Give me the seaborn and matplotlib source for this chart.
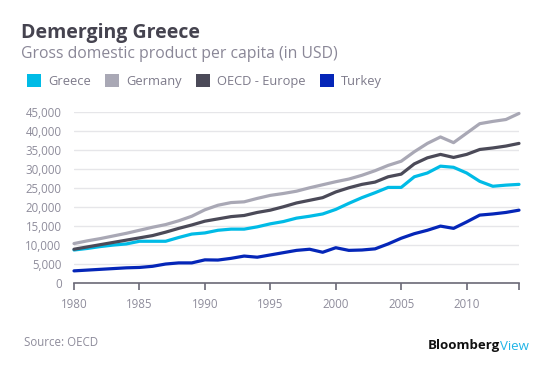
import numpy as np
import pandas as pd
import seaborn as sns
import matplotlib
matplotlib.use('Agg')
import matplotlib.pyplot as plt
from matplotlib.patches import Patch

# GDP per capita in USD (1980-2014)
years = list(range(1980, 2015))
greece = [8700, 9100, 9600, 10000, 10300, 11000, 11000, 11000, 12000, 12900,
          13200, 13900, 14200, 14200, 14800, 15600, 16200, 17100, 17600, 18200,
          19400, 21000, 22500, 23800, 25200, 25200, 28000, 29000, 30800, 30500,
          29000, 26800, 25500, 25800, 26000]
germany = [10400, 11100, 11700, 12400, 13100, 13900, 14700, 15400, 16400, 17600,
           19300, 20500, 21200, 21400, 22300, 23100, 23600, 24200, 25100, 25900,
           26700, 27400, 28400, 29600, 31000, 32100, 34600, 36800, 38500, 37000,
           39500, 42000, 42600, 43100, 44700]
oecd_europe = [8900, 9500, 10100, 10700, 11300, 11900, 12500, 13400, 14400, 15300,
               16300, 16900, 17500, 17800, 18600, 19200, 20100, 21100, 21800, 22500,
               24000, 25100, 26000, 26600, 28000, 28700, 31400, 33000, 33900, 33100,
               33900, 35200, 35600, 36100, 36800]
turkey = [3200, 3400, 3600, 3800, 4000, 4100, 4400, 5000, 5300, 5300,
          6100, 6050, 6500, 7100, 6800, 7400, 8000, 8600, 8900, 8100,
          9300, 8600, 8700, 9000, 10300, 11800, 13000, 13900, 15000, 14400,
          16100, 17900, 18200, 18600, 19200]

series_names = ['Greece', 'Germany', 'OECD - Europe', 'Turkey']
colors = ['#00bbe6', '#a9a8b5', '#4b4a58', '#0526b8']

df = pd.DataFrame({'Year': years, 'Greece': greece, 'Germany': germany,
                   'OECD - Europe': oecd_europe, 'Turkey': turkey})
long_df = df.melt(id_vars='Year', var_name='Country', value_name='GDP')

sns.set_style('white')
plt.rcParams['font.family'] = ['Open Sans', 'DejaVu Sans']

fig = plt.figure(figsize=(5.57, 3.74), dpi=100)
ax = fig.add_axes([74 / 557, 1 - 283 / 374, (519 - 74) / 557, (283 - 112.3) / 374])

sns.lineplot(data=long_df, x='Year', y='GDP', hue='Country', hue_order=series_names,
             palette=colors, linewidth=2.3, legend=False, ax=ax, clip_on=False)

ax.set_xlim(1980, 2014)
ax.set_ylim(0, 45000)
ax.set_yticks(range(0, 45001, 5000))
ax.set_yticklabels([f'{v:,}' for v in range(0, 45001, 5000)])
ax.set_xticks([1980, 1985, 1990, 1995, 2000, 2005, 2010, 2014])
ax.set_xticklabels(['1980', '1985', '1990', '1995', '2000', '2005', '2010', ''])
ax.set_xlabel('')
ax.set_ylabel('')

ax.grid(axis='y', color='#e6e6e9', linewidth=1)
ax.set_axisbelow(True)
for s in ['top', 'right', 'left']:
    ax.spines[s].set_visible(False)
ax.spines['bottom'].set_color('#6b6977')
ax.spines['bottom'].set_linewidth(1.2)
ax.tick_params(axis='x', direction='out', length=5, width=1.2, color='#6b6977',
               labelsize=8.3, labelcolor='#8e8c9b', pad=6, bottom=True)
ax.tick_params(axis='y', length=0, labelsize=8.3, labelcolor='#8e8c9b', pad=9)

# title block
fig.text(21 / 557, 1 - 33 / 374, 'Demerging Greece', fontsize=14, fontweight='bold',
         color='#45434f', va='center', ha='left')
fig.text(21 / 557, 1 - 54 / 374, 'Gross domestic product per capita (in USD)',
         fontsize=11.3, color='#8a8797', va='center', ha='left')

handles = [Patch(facecolor=c, edgecolor='none') for c in colors]
fig.legend(handles, series_names, loc='center left', bbox_to_anchor=(15 / 557, 1 - 81 / 374),
           ncol=4, frameon=False, fontsize=9.3, labelcolor='#7d7a8a',
           handlelength=1.1, handleheight=1.1, handletextpad=0.55, columnspacing=1.1)

fig.text(24 / 557, 1 - 343 / 374, 'Source: OECD', fontsize=8.3, color='#8e8c9b',
         va='center', ha='left')
fig.text(500 / 557, 1 - 346 / 374, 'Bloomberg', fontsize=9.5, fontweight='bold',
         color='#111111', va='center', ha='right')
fig.text(500 / 557, 1 - 346 / 374, 'View', fontsize=9.5, color='#1fb4e6',
         va='center', ha='left')

fig.savefig('out.png', dpi=100)
